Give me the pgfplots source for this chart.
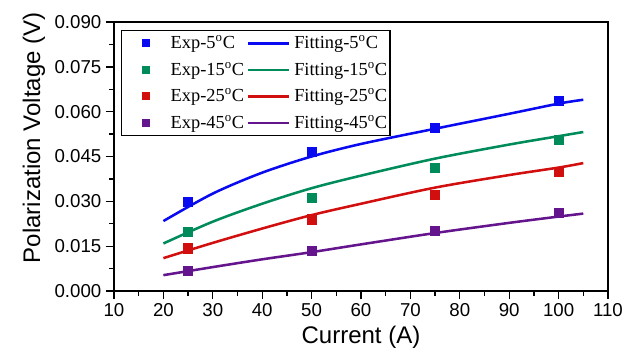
\documentclass[border=0pt]{standalone}
\usepackage{fontspec}
\setmainfont{Liberation Sans}
\newfontfamily\timesfont{Liberation Serif}
\usepackage{pgfplots}
\pgfplotsset{compat=1.18}
\definecolor{cblue}{RGB}{10,10,240}
\definecolor{cgreen}{RGB}{0,140,90}
\definecolor{cred}{RGB}{210,15,15}
\definecolor{cpurple}{RGB}{100,20,140}
\pgfplotsset{
  expimg/.style={legend image code/.code={
      \path[draw=none,fill=none] (0pt,-1pt) rectangle (35pt,1pt);
      \draw[##1, mark size=2.5pt] plot coordinates {(16.2pt,0pt)};}},
  fitimg/.style={legend image code/.code={
      \path[draw=none,fill=none] (0pt,-1pt) rectangle (37.5pt,1pt);
      \draw[##1] (2.8pt,0pt) -- (33.8pt,0pt);}},
  expstyle/.style={only marks, mark=square*, mark size=3.4pt, color=#1, expimg},
  fitstyle/.style={no marks, smooth, line width=1.9pt, color=#1, fitimg},
}
\begin{document}
\begin{tikzpicture}
\begin{axis}[
  scale only axis, width=370.5pt, height=201.75pt,
  xmin=10, xmax=110, ymin=0, ymax=0.09,
  xtick={10,20,30,40,50,60,70,80,90,100,110},
  ytick={0,0.015,0.03,0.045,0.06,0.075,0.09},
  minor x tick num=1, minor y tick num=1,
  tick align=outside, xtick pos=bottom, ytick pos=left,
  major tick length=6pt, minor tick length=3.5pt,
  every tick/.style={black, line width=1pt},
  axis line style={line width=1.2pt},
  tick label style={font=\fontsize{14}{16}\selectfont},
  /pgf/number format/assume math mode=true,
  scaled y ticks=false,
  yticklabel style={/pgf/number format/.cd, fixed, fixed zerofill, precision=3},
  xlabel={Current (A)}, ylabel={Polarization Voltage (V)},
  xlabel style={at={(axis description cs:0.5,-0.171)}, anchor=center, font=\fontsize{18}{20}\selectfont},
  ylabel style={at={(axis description cs:-0.162,0.57)}, rotate=0, anchor=center, font=\fontsize{18}{20}\selectfont},
  legend columns=2, legend cell align=left,
  legend style={at={(axis description cs:0.0136,0.970)}, anchor=north west,
    draw=black, line width=1pt, inner xsep=2pt, inner ysep=3.8pt,
    font=\timesfont\fontsize{13.8}{16}\selectfont,
    nodes={inner xsep=0pt, inner ysep=0pt}, row sep=8.6pt, column sep=0pt},
]
\addplot[expstyle=cblue] coordinates {(25,0.0298) (50,0.0466) (75,0.0546) (100,0.0636)};
\addlegendentry{Exp-5\textsuperscript{o}C}
\addplot[fitstyle=cblue] coordinates {(20,0.0234) (30,0.0326) (40,0.0396) (50,0.0450) (60,0.0492) (75,0.0543) (90,0.0593) (100,0.0627) (105,0.0640)};
\addlegendentry{Fitting-5\textsuperscript{o}C}
\addplot[expstyle=cgreen] coordinates {(25,0.0197) (50,0.0311) (75,0.0412) (100,0.0507)};
\addlegendentry{Exp-15\textsuperscript{o}C}
\addplot[fitstyle=cgreen] coordinates {(20,0.0159) (30,0.0232) (40,0.0292) (50,0.0344) (60,0.0386) (75,0.0443) (90,0.0490) (100,0.0518) (105,0.0532)};
\addlegendentry{Fitting-15\textsuperscript{o}C}
\addplot[expstyle=cred] coordinates {(25,0.0143) (50,0.0240) (75,0.0323) (100,0.0398)};
\addlegendentry{Exp-25\textsuperscript{o}C}
\addplot[fitstyle=cred] coordinates {(20,0.0110) (30,0.0161) (40,0.0209) (50,0.0254) (60,0.0292) (75,0.0346) (90,0.0388) (100,0.0413) (105,0.0428)};
\addlegendentry{Fitting-25\textsuperscript{o}C}
\addplot[expstyle=cpurple] coordinates {(25,0.0068) (50,0.0134) (75,0.0200) (100,0.0262)};
\addlegendentry{Exp-45\textsuperscript{o}C}
\addplot[fitstyle=cpurple] coordinates {(20,0.0053) (30,0.0080) (40,0.0106) (50,0.0130) (60,0.0156) (75,0.0194) (90,0.0228) (100,0.0249) (105,0.0259)};
\addlegendentry{Fitting-45\textsuperscript{o}C}
\end{axis}
\pgfresetboundingbox
\path (-85.5pt,-45pt) rectangle (394.5pt,218.25pt);
\end{tikzpicture}
\end{document}
